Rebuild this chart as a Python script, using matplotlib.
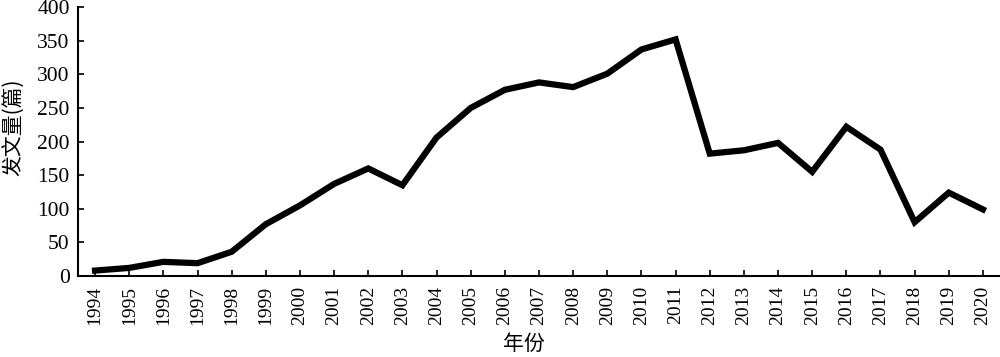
import matplotlib
matplotlib.use("Agg")
import matplotlib.pyplot as plt

years = list(range(1994, 2021))
counts = [8, 12, 21, 19, 36, 77, 105, 137, 160, 135, 206, 250, 277, 288, 281, 301, 337, 352,
          182, 187, 198, 155, 222, 188, 80, 124, 99]

plt.rcParams['font.family'] = ['Liberation Serif', 'Noto Sans CJK SC']

fig = plt.figure(figsize=(10, 3.57), dpi=100)
ax = fig.add_axes([0.078, 0.227, 0.922, 0.753])

ax.plot(years, counts, color="black", linewidth=4.5, solid_joinstyle="miter")

ax.set_xlim(years[0] - 0.5, years[-1] + 0.5)
ax.set_ylim(0, 400)
ax.set_yticks(range(0, 401, 50))
ax.set_xticks(years)
ax.set_xticklabels([str(y) for y in years], rotation=90)

ax.spines["top"].set_visible(False)
ax.spines["right"].set_visible(False)
ax.spines["left"].set_linewidth(1.5)
ax.spines["bottom"].set_linewidth(1.5)
ax.tick_params(direction="in", length=4.5, width=1.2)
ax.tick_params(axis="y", labelsize=15.5, pad=6)
ax.tick_params(axis="x", labelsize=14, pad=7)

cjk = ['Noto Sans CJK SC', 'Liberation Serif']
ax.set_ylabel("发文量(篇)", family=cjk, fontsize=15)
ax.set_xlabel("年份", family=cjk, fontsize=15)
ax.yaxis.set_label_coords(-0.057, 0.555)
ax.xaxis.set_label_coords(0.484, -0.213)

fig.savefig("out.png", dpi=100)
